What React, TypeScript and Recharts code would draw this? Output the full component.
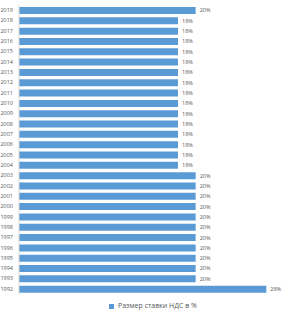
import React from "react";
import { Bar, BarChart, LabelList, Legend, XAxis, YAxis } from "recharts";

const years = [
  "2019", "2018", "2017", "2016", "2015", "2014", "2013", "2012", "2011", "2010",
  "2009", "2008", "2007", "2006", "2005", "2004", "2003", "2002", "2001", "2000",
  "1999", "1998", "1997", "1996", "1995", "1994", "1993", "1992",
];
const rates = [
  20, 18, 18, 18, 18, 18, 18, 18, 18, 18,
  18, 18, 18, 18, 18, 18, 20, 20, 20, 20,
  20, 20, 20, 20, 20, 20, 20, 28,
];
const seriesName = "Размер ставки НДС в %";

const data = years.map((y, i) => ({ year: y, rate: rates[i] }));

const App = () => {
  return (
    <div style={{ position: "absolute", left: 0, top: 0, background: "#fff" }}>
      <BarChart
        width={290}
        height={320}
        data={data}
        layout="vertical"
        margin={{ top: 5, right: 6, left: 0, bottom: 10 }}
        style={{ fontFamily: "'Open Sans', sans-serif" }}
      >
        <XAxis type="number" domain={[0, 30]} hide />
        <YAxis
          type="category"
          dataKey="year"
          width={19}
          tickLine={false}
          tickSize={4}
          axisLine={{ stroke: "#d9d9d9" }}
          tick={{ fontSize: 5.5, fill: "#595959" }}
          interval={0}
        />
        <Legend
          align="left"
          iconType="square"
          iconSize={5}
          formatter={(v: string) => <span style={{ color: "#595959" }}>{v}</span>}
          wrapperStyle={{ fontSize: 7, paddingTop: 8, lineHeight: "8px", left: 109, width: "auto" }}
        />
        <Bar
          dataKey="rate"
          name={seriesName}
          fill="#5b9bd5"
          barSize={7}
          isAnimationActive={false}
        >
          <LabelList
            dataKey="rate"
            position="right"
            offset={4}
            fontSize={5.5}
            fill="#595959"
            formatter={(v: number) => `${v}%`}
          />
        </Bar>
      </BarChart>
    </div>
  );
};

export default App;
